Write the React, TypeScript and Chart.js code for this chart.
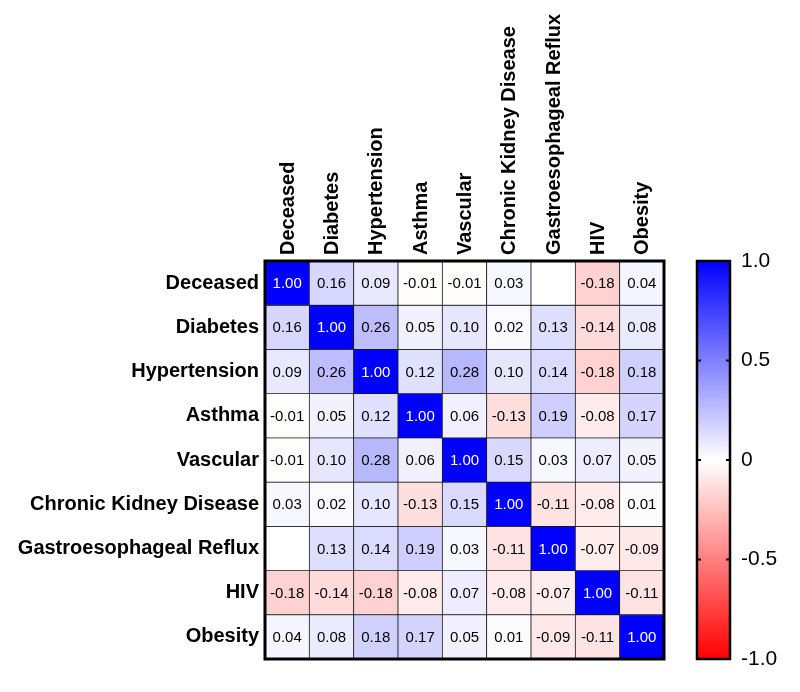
import React, { useEffect, useRef } from 'react';
import { Chart, registerables } from 'chart.js';

Chart.register(...registerables);

const variables = [
  'Deceased',
  'Diabetes',
  'Hypertension',
  'Asthma',
  'Vascular',
  'Chronic Kidney Disease',
  'Gastroesophageal Reflux',
  'HIV',
  'Obesity',
];

const deceasedRow = [1.0, 0.16, 0.09, -0.01, -0.01, 0.03, null, -0.18, 0.04];
const diabetesRow = [0.16, 1.0, 0.26, 0.05, 0.1, 0.02, 0.13, -0.14, 0.08];
const hypertensionRow = [0.09, 0.26, 1.0, 0.12, 0.28, 0.1, 0.14, -0.18, 0.18];
const asthmaRow = [-0.01, 0.05, 0.12, 1.0, 0.06, -0.13, 0.19, -0.08, 0.17];
const vascularRow = [-0.01, 0.1, 0.28, 0.06, 1.0, 0.15, 0.03, 0.07, 0.05];
const ckdRow = [0.03, 0.02, 0.1, -0.13, 0.15, 1.0, -0.11, -0.08, 0.01];
const gerRow = [null, 0.13, 0.14, 0.19, 0.03, -0.11, 1.0, -0.07, -0.09];
const hivRow = [-0.18, -0.14, -0.18, -0.08, 0.07, -0.08, -0.07, 1.0, -0.11];
const obesityRow = [0.04, 0.08, 0.18, 0.17, 0.05, 0.01, -0.09, -0.11, 1.0];

const matrix: (number | null)[][] = [
  deceasedRow,
  diabetesRow,
  hypertensionRow,
  asthmaRow,
  vascularRow,
  ckdRow,
  gerRow,
  hivRow,
  obesityRow,
];

const colorbarTicks = [-1, -0.5, 0, 0.5, 1];
const colorbarLabels = ['-1.0', '-0.5', '0', '0.5', '1.0'];

const FONT = '"Liberation Sans", Arial, Helvetica, sans-serif';

function cellColor(v: number | null): string {
  if (v === null) return '#ffffff';
  const t = Math.min(1, Math.abs(v));
  const c = Math.round(255 * (1 - t));
  return v >= 0 ? `rgb(${c},${c},255)` : `rgb(255,${c},${c})`;
}

const cellTextPlugin = {
  id: 'cellText',
  afterDatasetsDraw(chart: any) {
    const ctx = chart.ctx;
    ctx.save();
    ctx.font = `15px ${FONT}`;
    ctx.textAlign = 'center';
    ctx.textBaseline = 'middle';
    chart.data.datasets.forEach((_ds: any, i: number) => {
      const meta = chart.getDatasetMeta(i);
      meta.data.forEach((el: any, j: number) => {
        const v = matrix[i][j];
        if (v === null) return;
        const p = el.getProps(['x', 'y', 'base'], true);
        ctx.fillStyle = v >= 0.6 ? '#ffffff' : '#000000';
        ctx.fillText(v.toFixed(2), p.x, (p.y + p.base) / 2 + 1);
      });
    });
    const a = chart.chartArea;
    ctx.strokeStyle = '#000';
    ctx.lineWidth = 3;
    ctx.strokeRect(a.left, a.top, a.right - a.left, a.bottom - a.top);
    ctx.restore();
  },
};

const colorbarPlugin = {
  id: 'colorbar',
  afterDraw(chart: any) {
    const s = chart.scales.y2;
    const ctx = chart.ctx;
    const top = s.getPixelForValue(1);
    const bottom = s.getPixelForValue(-1);
    const left = s.left + 33;
    const right = s.left + 66;
    ctx.save();
    const g = ctx.createLinearGradient(0, top, 0, bottom);
    g.addColorStop(0, 'rgb(0,0,255)');
    g.addColorStop(0.5, 'rgb(255,255,255)');
    g.addColorStop(1, 'rgb(255,0,0)');
    ctx.fillStyle = g;
    ctx.fillRect(left, top, right - left, bottom - top);
    ctx.strokeStyle = '#000';
    ctx.lineWidth = 2.5;
    ctx.strokeRect(left, top, right - left, bottom - top);
    ctx.lineWidth = 2;
    [0.5, 0, -0.5].forEach((v) => {
      const y = s.getPixelForValue(v);
      ctx.beginPath();
      ctx.moveTo(left, y);
      ctx.lineTo(left + 4, y);
      ctx.moveTo(right - 4, y);
      ctx.lineTo(right, y);
      ctx.stroke();
    });
    ctx.restore();
  },
};

export default function App() {
  const ref = useRef<HTMLCanvasElement | null>(null);

  useEffect(() => {
    if (!ref.current) return;
    const datasets = matrix.map((row, i) => ({
      label: variables[i],
      data: row.map(() => [i, i + 1]),
      backgroundColor: row.map((v) => cellColor(v)),
      borderColor: '#1a1a1a',
      borderWidth: 0.75,
      borderSkipped: false,
      barPercentage: 1,
      categoryPercentage: 1,
      grouped: false,
    }));

    const chart = new Chart(ref.current, {
      type: 'bar',
      data: { labels: variables, datasets: datasets as any },
      plugins: [cellTextPlugin, colorbarPlugin],
      options: {
        responsive: false,
        animation: false,
        events: [],
        layout: { padding: { left: 0, right: 0, top: 0, bottom: 33 } },
        plugins: { legend: { display: false }, tooltip: { enabled: false } },
        scales: {
          x: {
            type: 'category',
            position: 'top',
            offset: true,
            grid: { display: false, drawTicks: false },
            border: { display: false },
            ticks: {
              autoSkip: false,
              minRotation: 90,
              maxRotation: 90,
              padding: 6,
              labelOffset: 25,
              color: '#000',
              font: { family: FONT, size: 20, weight: 'bold' },
            },
            afterFit: (s: any) => {
              s.height = 261;
            },
          },
          y: {
            type: 'linear',
            position: 'left',
            reverse: true,
            min: 0,
            max: 9,
            grid: { display: false, drawTicks: false },
            border: { display: false },
            afterBuildTicks: (s: any) => {
              s.ticks = variables.map((_, i) => ({ value: i + 0.5 }));
            },
            ticks: {
              padding: 6,
              color: '#000',
              font: { family: FONT, size: 20, weight: 'bold' },
              callback: (_v: any, idx: number) => variables[idx],
            },
            afterFit: (s: any) => {
              s.width = 265;
            },
          },
          y2: {
            type: 'linear',
            position: 'right',
            min: -1,
            max: 1,
            grid: { display: false, drawTicks: true, tickLength: 76 },
            border: { display: false },
            afterBuildTicks: (s: any) => {
              s.ticks = colorbarTicks.map((v) => ({ value: v }));
            },
            ticks: {
              padding: 1,
              color: '#000',
              font: { family: FONT, size: 21 },
              callback: (_v: any, idx: number) => colorbarLabels[idx],
            },
            afterFit: (s: any) => {
              s.width = 136;
            },
          },
        },
      } as any,
    });
    return () => chart.destroy();
  }, []);

  return (
    <div style={{ position: 'absolute', left: 0, top: 0, width: 800, height: 692, background: '#fff' }}>
      <canvas ref={ref} width={800} height={692} />
    </div>
  );
}
